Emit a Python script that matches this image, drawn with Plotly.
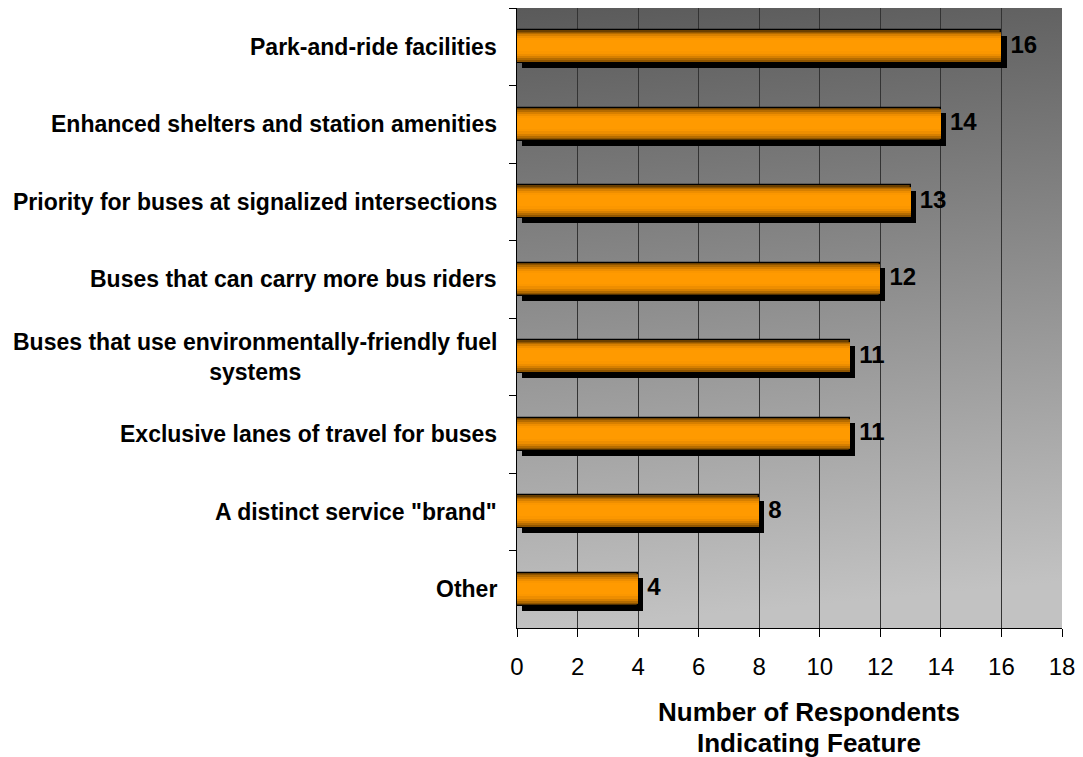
import base64
import plotly.graph_objects as go

categories = [
    "Park-and-ride facilities",
    "Enhanced shelters and station amenities",
    "Priority for buses at signalized intersections",
    "Buses that can carry more bus riders",
    "Buses that use environmentally-friendly fuel<br>systems",
    "Exclusive lanes of travel for buses",
    'A distinct service "brand"',
    "Other",
]
values = [16, 14, 13, 12, 11, 11, 8, 4]
x_ticks = list(range(0, 19, 2))
title_lines = ["Number of Respondents", "Indicating Feature"]

FONT = "Liberation Sans, Arial, sans-serif"
BAR_W = 0.42
fig = go.Figure()

# shadow
fig.add_trace(go.Bar(
    x=values, y=categories, orientation="h", base=0.17,
    width=BAR_W, offset=-BAR_W / 2 + 0.065,
    marker=dict(color="black", line=dict(width=0)),
    hoverinfo="skip", showlegend=False,
))

# gradient layers for bar (outer dark to inner bright)
layers = [
    (1.00, "#6a3f00"),
    (0.92, "#8f5500"),
    (0.84, "#b46b00"),
    (0.74, "#d67f00"),
    (0.62, "#ee8e00"),
    (0.48, "#fb9700"),
    (0.34, "#ff9a00"),
]
for frac, col in layers:
    w = BAR_W * frac
    fig.add_trace(go.Bar(
        x=values, y=categories, orientation="h",
        width=w, offset=-BAR_W / 2 + (BAR_W - w) * 0.45,
        marker=dict(color=col, line=dict(width=1.3 if frac == 1.0 else 0, color="black")),
        hoverinfo="skip", showlegend=False,
    ))

# value labels
fig.add_trace(go.Scatter(
    x=[v + 0.3 for v in values], y=categories, mode="text",
    text=[str(v) for v in values], textposition="middle right",
    textfont=dict(family=FONT, size=24, color="black", weight="bold"),
    hoverinfo="skip", showlegend=False, cliponaxis=False,
))

# plot-area background gradient (inline SVG image, no network)
svg = (
    '<svg xmlns="http://www.w3.org/2000/svg" width="100" height="100" preserveAspectRatio="none">'
    '<defs><linearGradient id="g" x1="0" y1="0" x2="0.08" y2="1">'
    '<stop offset="0" stop-color="#5a5a5a"/><stop offset="1" stop-color="#c2c2c2"/>'
    '</linearGradient></defs><rect width="100" height="100" fill="url(#g)"/></svg>'
)
src = "data:image/svg+xml;base64," + base64.b64encode(svg.encode()).decode()

annotations = []
for cat in categories:
    annotations.append(dict(
        xref="paper", yref="y", x=0, y=cat, xshift=-18,
        xanchor="right", yanchor="middle", align="center", showarrow=False,
        text=cat, font=dict(family=FONT, size=23, color="black", weight="bold"),
    ))
for line, ypos in zip(title_lines, [-0.1355, -0.1855]):
    annotations.append(dict(
        xref="paper", yref="paper", x=0.536, y=ypos, yanchor="middle", xanchor="center",
        showarrow=False, align="center", text=line,
        font=dict(family=FONT, size=26, color="black", weight="bold"),
    ))

fig.update_layout(
    width=1083, height=757,
    margin=dict(l=517, r=17, t=8, b=129),
    paper_bgcolor="white", plot_bgcolor="rgba(0,0,0,0)",
    barmode="overlay", bargap=0,
    images=[dict(source=src, xref="paper", yref="paper", x=0, y=1,
                 sizex=1, sizey=1, xanchor="left", yanchor="top",
                 sizing="stretch", layer="below")],
    annotations=annotations,
    xaxis=dict(
        range=[0, 18], tickvals=x_ticks, ticktext=[str(t) for t in x_ticks],
        showgrid=True, gridcolor="#333333", gridwidth=1,
        showline=True, linecolor="black", linewidth=1,
        ticks="outside", ticklen=8, tickcolor="black",
        ticklabelstandoff=9,
        tickfont=dict(family=FONT, size=24, color="black"),
        zeroline=False,
    ),
    yaxis=dict(
        autorange="reversed", categoryorder="array", categoryarray=categories,
        showticklabels=False, tickson="boundaries",
        ticks="outside", ticklen=7, tickcolor="black",
        showline=True, linecolor="black", linewidth=1,
        showgrid=False, zeroline=False,
    ),
)

fig.write_html("out.html")
